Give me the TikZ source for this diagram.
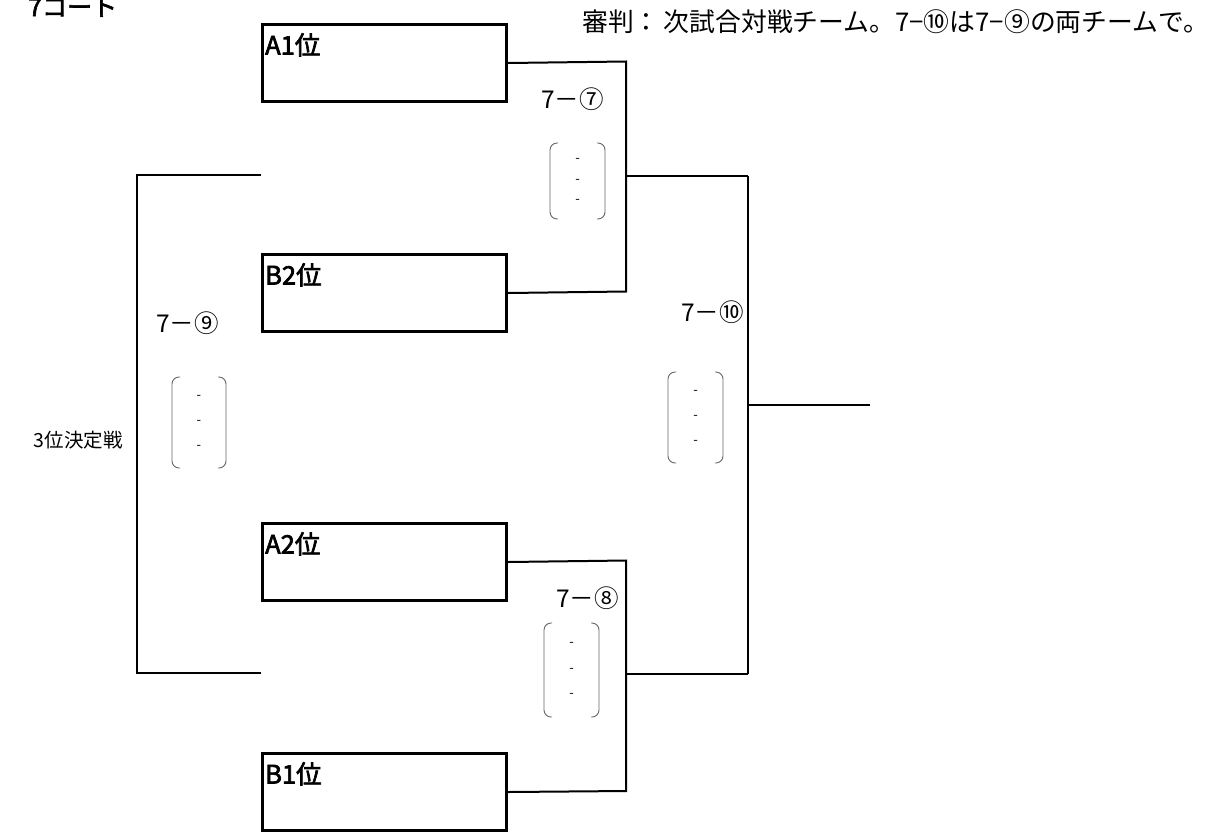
\documentclass[tikz,border=0pt]{standalone}
\usepackage{fontspec}
\usetikzlibrary{calc}
\setmainfont{Noto Sans CJK JP}
\newfontfamily\jpb{Noto Sans CJK JP}[FakeBold=2.5]
\begin{document}
\begin{tikzpicture}[x=1pt,y=-1pt,
  teambox/.style={draw,line width=3pt,minimum width=244pt,minimum height=77pt,anchor=north west,inner sep=0pt},
  teamname/.style={anchor=north west,inner sep=0pt,font=\jpb\fontsize{25.5}{25.5}\selectfont},
  wire/.style={line width=2pt},
  matchlbl/.style={inner sep=0pt,font=\fontsize{24.5}{24.5}\selectfont},
  paren/.style={draw=gray!80!black,line width=0.9pt,rounded corners=7pt},
  dashmark/.style={inner sep=0pt,font=\fontsize{13}{13}\selectfont}
]
\useasboundingbox (0,0) rectangle (1218,831);
% title and header
\node[anchor=south west,inner sep=0pt,font=\jpb\fontsize{25}{25}\selectfont] (court) at (28,17) {7コート};
\node[anchor=west,inner sep=0pt,font=\fontsize{25.8}{25.8}\selectfont] (hdr) at (582,22) {審判：\,次試合対戦チーム。7−⑩は7−⑨の両チームで。};
% team boxes
\node[teambox] (a1) at (261,23) {};
\node[teambox] (b2) at (261,253) {};
\node[teambox] (a2) at (261,522) {};
\node[teambox] (b1) at (261,752) {};
\node[teamname] (a1t) at ([shift={(4,10)}]a1.north west) {A1位};
\node[teamname] (b2t) at ([shift={(4,10)}]b2.north west) {B2位};
\node[teamname] (a2t) at ([shift={(4,10)}]a2.north west) {A2位};
\node[teamname] (b1t) at ([shift={(4,10)}]b1.north west) {B1位};
% junction coordinates
\coordinate (j7a) at (626,61.5);
\coordinate (j7b) at (626,291.5);
\coordinate (j7) at (626,176);
\coordinate (j8a) at (626,560.5);
\coordinate (j8b) at (626,791);
\coordinate (j8) at (626,674);
\coordinate (f7) at (748,176);
\coordinate (f8) at (748,674);
\coordinate (f) at (748,405);
\coordinate (fo) at (870,405);
\coordinate (s1) at (261,175);
\coordinate (s2) at (261,673);
\coordinate (l1) at (137,175);
\coordinate (l2) at (137,673);
% connectors
\draw[wire] (a1.east) -- (j7a) -- (j7b) -- (b2.east);
\draw[wire] (j7) -- (f7);
\draw[wire] (a2.east) -- (j8a) -- (j8b) -- (b1.east);
\draw[wire] (j8) -- (f8);
\draw[wire] (f7) -- (f8);
\draw[wire] (f) -- (fo);
\draw[wire] (s1) -- (l1) -- (l2) -- (s2);
% match labels
\node[matchlbl,anchor=east] (m7) at (604,99) {7－⑦};
\node[matchlbl,anchor=east] (m8) at (619,598) {7－⑧};
\node[matchlbl,anchor=east] (m9) at (219,323) {7－⑨};
\node[matchlbl,anchor=east] (m10) at (744,312) {7－⑩};
\node[anchor=east,inner sep=0pt,font=\fontsize{19.5}{19.5}\selectfont] (third) at (123,440) {3位決定戦};
% score parentheses
\foreach \nm/\xl/\xr/\yt/\yb in {p7/550/605/143/219, p8/544/599/623/717, p9/172/226/377/468, p10/668/723/372/463}{
  \draw[paren] (\xl+8,\yt) -- (\xl,\yt) -- (\xl,\yb) -- (\xl+8,\yb);
  \draw[paren] (\xr-8,\yt) -- (\xr,\yt) -- (\xr,\yb) -- (\xr-8,\yb);
  \path ({(\xl+\xr)/2},\yt) coordinate (\nm top) ({(\xl+\xr)/2},\yb) coordinate (\nm bot);
  \node[dashmark] (\nm d1) at ($(\nm top)!0.23!(\nm bot)$) {-};
  \node[dashmark] (\nm d2) at ($(\nm top)!0.5!(\nm bot)$) {-};
  \node[dashmark] (\nm d3) at ($(\nm top)!0.77!(\nm bot)$) {-};
}
\end{tikzpicture}
\end{document}
